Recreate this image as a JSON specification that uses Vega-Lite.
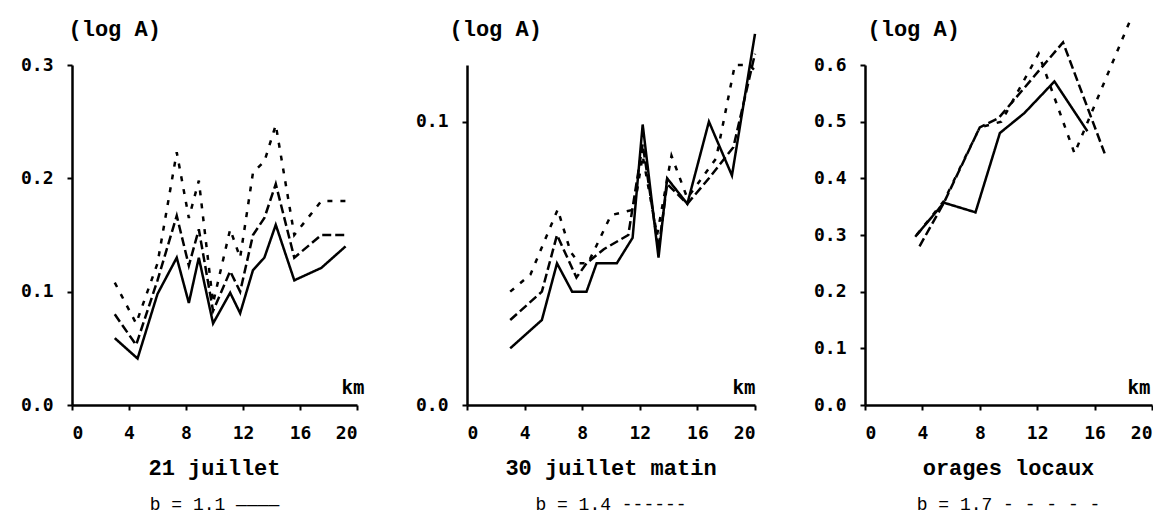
{
  "$schema": "https://vega.github.io/schema/vega-lite/v6.json",
  "background": "white",
  "padding": {"left": 20, "top": 14, "right": 0, "bottom": 0},
  "bounds": "flush",
  "spacing": 110,
  "config": {
    "view": {"stroke": null},
    "axis": {
      "grid": false,
      "domainColor": "black",
      "domainWidth": 2.5,
      "tickColor": "black",
      "tickWidth": 2,
      "tickSize": 5,
      "labelPadding": 14,
      "labelFont": "DejaVu Sans Mono",
      "labelFontWeight": "bold",
      "labelFontSize": 18,
      "labelColor": "black",
      "titleColor": "black"
    },
    "title": {"color": "black", "subtitleColor": "black"}
  },
  "datasets": {
    "series": [
      {"panel": "p1", "b": "1.1", "km": 3, "logA": 0.059},
      {"panel": "p1", "b": "1.1", "km": 4.6, "logA": 0.041},
      {"panel": "p1", "b": "1.1", "km": 6, "logA": 0.098},
      {"panel": "p1", "b": "1.1", "km": 7.35, "logA": 0.13},
      {"panel": "p1", "b": "1.1", "km": 8.2, "logA": 0.09},
      {"panel": "p1", "b": "1.1", "km": 8.9, "logA": 0.13},
      {"panel": "p1", "b": "1.1", "km": 9.9, "logA": 0.072},
      {"panel": "p1", "b": "1.1", "km": 11.1, "logA": 0.099},
      {"panel": "p1", "b": "1.1", "km": 11.8, "logA": 0.081},
      {"panel": "p1", "b": "1.1", "km": 12.7, "logA": 0.119},
      {"panel": "p1", "b": "1.1", "km": 13.5, "logA": 0.13},
      {"panel": "p1", "b": "1.1", "km": 14.3, "logA": 0.159},
      {"panel": "p1", "b": "1.1", "km": 15.6, "logA": 0.11},
      {"panel": "p1", "b": "1.1", "km": 17.5, "logA": 0.121},
      {"panel": "p1", "b": "1.1", "km": 19.2, "logA": 0.14},
      {"panel": "p1", "b": "1.4", "km": 3, "logA": 0.08},
      {"panel": "p1", "b": "1.4", "km": 4.5, "logA": 0.053},
      {"panel": "p1", "b": "1.4", "km": 6, "logA": 0.11},
      {"panel": "p1", "b": "1.4", "km": 7.35, "logA": 0.167},
      {"panel": "p1", "b": "1.4", "km": 8.2, "logA": 0.123},
      {"panel": "p1", "b": "1.4", "km": 8.9, "logA": 0.155},
      {"panel": "p1", "b": "1.4", "km": 9.9, "logA": 0.083},
      {"panel": "p1", "b": "1.4", "km": 11.1, "logA": 0.118},
      {"panel": "p1", "b": "1.4", "km": 11.8, "logA": 0.1},
      {"panel": "p1", "b": "1.4", "km": 12.7, "logA": 0.15},
      {"panel": "p1", "b": "1.4", "km": 13.5, "logA": 0.165},
      {"panel": "p1", "b": "1.4", "km": 14.3, "logA": 0.195},
      {"panel": "p1", "b": "1.4", "km": 15.6, "logA": 0.13},
      {"panel": "p1", "b": "1.4", "km": 17.5, "logA": 0.15},
      {"panel": "p1", "b": "1.4", "km": 19.2, "logA": 0.15},
      {"panel": "p1", "b": "1.7", "km": 3, "logA": 0.108},
      {"panel": "p1", "b": "1.7", "km": 4.5, "logA": 0.072},
      {"panel": "p1", "b": "1.7", "km": 6, "logA": 0.125},
      {"panel": "p1", "b": "1.7", "km": 7.35, "logA": 0.223},
      {"panel": "p1", "b": "1.7", "km": 8.2, "logA": 0.165},
      {"panel": "p1", "b": "1.7", "km": 8.9, "logA": 0.198},
      {"panel": "p1", "b": "1.7", "km": 9.9, "logA": 0.09},
      {"panel": "p1", "b": "1.7", "km": 11.1, "logA": 0.155},
      {"panel": "p1", "b": "1.7", "km": 11.8, "logA": 0.13},
      {"panel": "p1", "b": "1.7", "km": 12.7, "logA": 0.205},
      {"panel": "p1", "b": "1.7", "km": 13.5, "logA": 0.215},
      {"panel": "p1", "b": "1.7", "km": 14.3, "logA": 0.247},
      {"panel": "p1", "b": "1.7", "km": 15.6, "logA": 0.15},
      {"panel": "p1", "b": "1.7", "km": 17.5, "logA": 0.18},
      {"panel": "p1", "b": "1.7", "km": 19.2, "logA": 0.18},

      {"panel": "p2", "b": "1.1", "km": 3, "logA": 0.02},
      {"panel": "p2", "b": "1.1", "km": 5.2, "logA": 0.03},
      {"panel": "p2", "b": "1.1", "km": 6.25, "logA": 0.05},
      {"panel": "p2", "b": "1.1", "km": 7.3, "logA": 0.04},
      {"panel": "p2", "b": "1.1", "km": 8.3, "logA": 0.04},
      {"panel": "p2", "b": "1.1", "km": 9, "logA": 0.05},
      {"panel": "p2", "b": "1.1", "km": 10.4, "logA": 0.05},
      {"panel": "p2", "b": "1.1", "km": 11.5, "logA": 0.059},
      {"panel": "p2", "b": "1.1", "km": 12.2, "logA": 0.099},
      {"panel": "p2", "b": "1.1", "km": 13.3, "logA": 0.052},
      {"panel": "p2", "b": "1.1", "km": 13.9, "logA": 0.08},
      {"panel": "p2", "b": "1.1", "km": 15.3, "logA": 0.071},
      {"panel": "p2", "b": "1.1", "km": 16.8, "logA": 0.1},
      {"panel": "p2", "b": "1.1", "km": 18.4, "logA": 0.081},
      {"panel": "p2", "b": "1.1", "km": 20, "logA": 0.131},
      {"panel": "p2", "b": "1.4", "km": 3, "logA": 0.03},
      {"panel": "p2", "b": "1.4", "km": 5.2, "logA": 0.04},
      {"panel": "p2", "b": "1.4", "km": 6.25, "logA": 0.06},
      {"panel": "p2", "b": "1.4", "km": 7.6, "logA": 0.045},
      {"panel": "p2", "b": "1.4", "km": 8.3, "logA": 0.05},
      {"panel": "p2", "b": "1.4", "km": 9.5, "logA": 0.055},
      {"panel": "p2", "b": "1.4", "km": 11.2, "logA": 0.06},
      {"panel": "p2", "b": "1.4", "km": 12.2, "logA": 0.092},
      {"panel": "p2", "b": "1.4", "km": 13.3, "logA": 0.055},
      {"panel": "p2", "b": "1.4", "km": 13.9, "logA": 0.078},
      {"panel": "p2", "b": "1.4", "km": 15.3, "logA": 0.071},
      {"panel": "p2", "b": "1.4", "km": 16.8, "logA": 0.08},
      {"panel": "p2", "b": "1.4", "km": 18.5, "logA": 0.091},
      {"panel": "p2", "b": "1.4", "km": 20, "logA": 0.124},
      {"panel": "p2", "b": "1.7", "km": 3, "logA": 0.04},
      {"panel": "p2", "b": "1.7", "km": 4.4, "logA": 0.046},
      {"panel": "p2", "b": "1.7", "km": 6.3, "logA": 0.069},
      {"panel": "p2", "b": "1.7", "km": 7.2, "logA": 0.054},
      {"panel": "p2", "b": "1.7", "km": 7.8, "logA": 0.05},
      {"panel": "p2", "b": "1.7", "km": 8.4, "logA": 0.05},
      {"panel": "p2", "b": "1.7", "km": 10, "logA": 0.067},
      {"panel": "p2", "b": "1.7", "km": 11.6, "logA": 0.069},
      {"panel": "p2", "b": "1.7", "km": 12.2, "logA": 0.088},
      {"panel": "p2", "b": "1.7", "km": 13.2, "logA": 0.06},
      {"panel": "p2", "b": "1.7", "km": 14.2, "logA": 0.088},
      {"panel": "p2", "b": "1.7", "km": 15.3, "logA": 0.073},
      {"panel": "p2", "b": "1.7", "km": 17.3, "logA": 0.087},
      {"panel": "p2", "b": "1.7", "km": 18.6, "logA": 0.12},
      {"panel": "p2", "b": "1.7", "km": 19.6, "logA": 0.12},
      {"panel": "p2", "b": "1.7", "km": 20, "logA": 0.118},

      {"panel": "p3", "b": "1.1", "km": 3.5, "logA": 0.297},
      {"panel": "p3", "b": "1.1", "km": 5.5, "logA": 0.357},
      {"panel": "p3", "b": "1.1", "km": 7.7, "logA": 0.34},
      {"panel": "p3", "b": "1.1", "km": 9.4, "logA": 0.48},
      {"panel": "p3", "b": "1.1", "km": 11.1, "logA": 0.515},
      {"panel": "p3", "b": "1.1", "km": 13.2, "logA": 0.571},
      {"panel": "p3", "b": "1.1", "km": 15.5, "logA": 0.483},
      {"panel": "p3", "b": "1.4", "km": 3.8, "logA": 0.28},
      {"panel": "p3", "b": "1.4", "km": 5.5, "logA": 0.357},
      {"panel": "p3", "b": "1.4", "km": 8, "logA": 0.49},
      {"panel": "p3", "b": "1.4", "km": 9.3, "logA": 0.506},
      {"panel": "p3", "b": "1.4", "km": 13.8, "logA": 0.64},
      {"panel": "p3", "b": "1.4", "km": 16.7, "logA": 0.444},
      {"panel": "p3", "b": "1.7", "km": 3.6, "logA": 0.3},
      {"panel": "p3", "b": "1.7", "km": 5.5, "logA": 0.36},
      {"panel": "p3", "b": "1.7", "km": 8, "logA": 0.49},
      {"panel": "p3", "b": "1.7", "km": 9.5, "logA": 0.5},
      {"panel": "p3", "b": "1.7", "km": 12.1, "logA": 0.62},
      {"panel": "p3", "b": "1.7", "km": 14.6, "logA": 0.444},
      {"panel": "p3", "b": "1.7", "km": 18.5, "logA": 0.68}
    ]
  },
  "hconcat": [
    {
      "width": 285,
      "height": 340,
      "data": {"name": "series"},
      "transform": [{"filter": "datum.panel === 'p1'"}],
      "title": {
        "text": "21 juillet",
        "subtitle": "b = 1.1 ————",
        "orient": "bottom",
        "anchor": "middle",
        "offset": 16,
        "font": "Liberation Mono",
        "fontWeight": "bold",
        "fontSize": 22,
        "subtitleFont": "Liberation Mono",
        "subtitleFontSize": 18,
        "subtitlePadding": 16
      },
      "mark": {"type": "line", "stroke": "black", "strokeWidth": 2.5},
      "encoding": {
        "x": {
          "field": "km", "type": "quantitative",
          "scale": {"domain": [0, 20], "nice": false},
          "axis": {"values": [0, 4, 8, 12, 16, 20], "title": "km",
            "titleFont": "DejaVu Sans Mono", "titleFontWeight": "bold", "titleFontSize": 19,
            "titleAnchor": "end", "titleAlign": "right", "titleBaseline": "alphabetic",
            "titleX": 292, "titleY": -12}
        },
        "y": {
          "field": "logA", "type": "quantitative",
          "scale": {"domain": [0, 0.3], "nice": false},
          "axis": {"values": [0, 0.1, 0.2, 0.3], "format": ".1f", "title": "(log A)",
            "titleFont": "Liberation Mono", "titleFontWeight": "bold", "titleFontSize": 22,
            "titleAngle": 0, "titleAlign": "left", "titleBaseline": "alphabetic",
            "titleX": -4, "titleY": -30}
        },
        "strokeDash": {
          "field": "b", "type": "nominal",
          "scale": {"domain": ["1.1", "1.4", "1.7"], "range": [[1, 0], [9, 4], [5, 8]]},
          "legend": null
        }
      }
    },
    {
      "width": 288,
      "height": 340,
      "data": {"name": "series"},
      "transform": [{"filter": "datum.panel === 'p2'"}],
      "title": {
        "text": "30 juillet matin",
        "subtitle": "b = 1.4 ------",
        "orient": "bottom",
        "anchor": "middle",
        "offset": 16,
        "font": "Liberation Mono",
        "fontWeight": "bold",
        "fontSize": 22,
        "subtitleFont": "Liberation Mono",
        "subtitleFontSize": 18,
        "subtitlePadding": 16
      },
      "mark": {"type": "line", "stroke": "black", "strokeWidth": 2.5},
      "encoding": {
        "x": {
          "field": "km", "type": "quantitative",
          "scale": {"domain": [0, 20], "nice": false},
          "axis": {"values": [0, 4, 8, 12, 16, 20], "title": "km",
            "titleFont": "DejaVu Sans Mono", "titleFontWeight": "bold", "titleFontSize": 19,
            "titleAnchor": "end", "titleAlign": "right", "titleBaseline": "alphabetic",
            "titleX": 288, "titleY": -12}
        },
        "y": {
          "field": "logA", "type": "quantitative",
          "scale": {"domain": [0, 0.12], "nice": false},
          "axis": {"values": [0, 0.1], "format": ".1f", "title": "(log A)",
            "titleFont": "Liberation Mono", "titleFontWeight": "bold", "titleFontSize": 22,
            "titleAngle": 0, "titleAlign": "left", "titleBaseline": "alphabetic",
            "titleX": -18, "titleY": -30}
        },
        "strokeDash": {
          "field": "b", "type": "nominal",
          "scale": {"domain": ["1.1", "1.4", "1.7"], "range": [[1, 0], [9, 4], [5, 8]]},
          "legend": null
        }
      }
    },
    {
      "width": 287,
      "height": 340,
      "data": {"name": "series"},
      "transform": [{"filter": "datum.panel === 'p3'"}],
      "title": {
        "text": "orages locaux",
        "subtitle": "b = 1.7 - - - - -",
        "orient": "bottom",
        "anchor": "middle",
        "offset": 16,
        "font": "Liberation Mono",
        "fontWeight": "bold",
        "fontSize": 22,
        "subtitleFont": "Liberation Mono",
        "subtitleFontSize": 18,
        "subtitlePadding": 16
      },
      "mark": {"type": "line", "stroke": "black", "strokeWidth": 2.5},
      "encoding": {
        "x": {
          "field": "km", "type": "quantitative",
          "scale": {"domain": [0, 20], "nice": false},
          "axis": {"values": [0, 4, 8, 12, 16, 20], "title": "km",
            "titleFont": "DejaVu Sans Mono", "titleFontWeight": "bold", "titleFontSize": 19,
            "titleAnchor": "end", "titleAlign": "right", "titleBaseline": "alphabetic",
            "titleX": 285, "titleY": -12}
        },
        "y": {
          "field": "logA", "type": "quantitative",
          "scale": {"domain": [0, 0.6], "nice": false},
          "axis": {"values": [0, 0.1, 0.2, 0.3, 0.4, 0.5, 0.6], "format": ".1f", "title": "(log A)",
            "titleFont": "Liberation Mono", "titleFontWeight": "bold", "titleFontSize": 22,
            "titleAngle": 0, "titleAlign": "left", "titleBaseline": "alphabetic",
            "titleX": 2, "titleY": -30}
        },
        "strokeDash": {
          "field": "b", "type": "nominal",
          "scale": {"domain": ["1.1", "1.4", "1.7"], "range": [[1, 0], [12, 6], [5, 8]]},
          "legend": null
        }
      }
    }
  ]
}
